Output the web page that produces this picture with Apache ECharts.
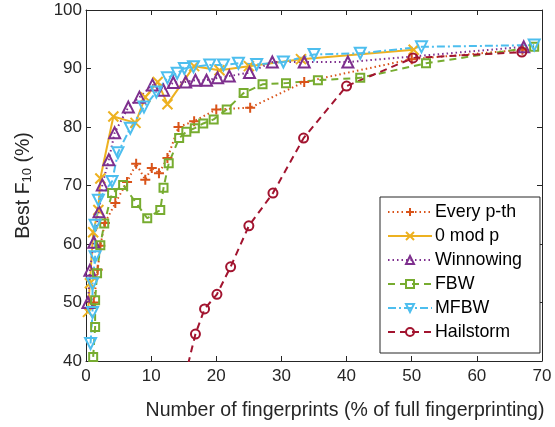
<!DOCTYPE html>
<html>
<head>
<meta charset="utf-8">
<script src="https://cdn.jsdelivr.net/npm/echarts@6/dist/echarts.min.js"></script>
<style>html,body{margin:0;padding:0;background:#fff}#c{width:555px;height:427px}</style>
</head>
<body>
<div id="c"></div>
<script>
const xTicks = [0, 10, 20, 30, 40, 50, 60, 70];
const yTicks = [40, 50, 60, 70, 80, 90, 100];
const seriesNames = ['Every p-th', '0 mod p', 'Winnowing', 'FBW', 'MFBW', 'Hailstorm'];

const everyPth = [[1.2,50],[1.8,55.6],[2.2,59.7],[2.9,63.6],[4.5,67],[6.3,70.6],[7.7,73.7],[9.1,71],[10.1,73],[11.2,72.1],[12.5,74.7],[14.2,80],[16.6,81],[20,83],[25.2,83.3],[33.5,87.7],[50,91.6],[67,93.2]];
const zeroModP = [[0.3,48.4],[0.6,53.3],[1.1,62],[1.9,65.8],[2.2,71.2],[4.2,81.8],[7.6,80.7],[9.1,85.1],[11,87.7],[12.5,83.9],[16.6,90.4],[20.5,89.7],[25,90.4],[33,91.6],[50.3,93.2]];
const winnowing = [[0.3,50],[0.6,55.5],[1.2,60.3],[2,65.5],[2.5,70.1],[3.5,74.4],[4.4,79],[6.5,83.4],[8.2,85.1],[10.2,87.2],[11.9,86.3],[13.4,87.6],[15.3,87.7],[16.8,88],[18.5,88],[20.2,88.4],[22,88.7],[25.1,89.3],[28.6,91.1],[33.5,91.1],[40.2,91.1],[67.2,93.7]];
const fbw = [[1.1,40.7],[1.4,45.8],[1.4,50.4],[1.7,55],[2.2,59.8],[2.8,63.5],[4,68.7],[5.7,70.1],[7.7,67],[9.4,64.4],[11.4,65.8],[11.9,69.6],[12.7,73.8],[14.3,78.1],[15.4,79.2],[16.7,79.8],[18,80.6],[19.6,81.3],[21.6,83],[24.2,85.8],[27.1,87.3],[30.7,87.5],[35.6,88],[42.1,88.4],[52.2,90.9],[68.8,93.7]];
const mfbw = [[0.7,43],[1.0,48.3],[1.0,53.2],[1.4,57.8],[1.4,63.2],[1.9,67.5],[4,70.7],[4.9,75.6],[6.8,79.8],[8.9,83.4],[10.8,86],[12.5,88.4],[14,89.2],[15.1,90],[16.5,90.3],[19,90.6],[21.1,90.6],[23.4,90.9],[26.2,90.7],[30.3,91.1],[35,92.4],[42.1,92.6],[51.5,93.7],[68.8,94]];
const hailstorm = [[14.8,35.5],[16.8,44.6],[18.2,48.9],[20.1,51.4],[22.2,56.1],[25,63.1],[28.7,68.7],[33.4,78.1],[40,87],[50.2,91.8],[66.9,92.8]];

const colors = ['#D95319', '#EDB120', '#7E2F8E', '#77AC30', '#4DBEEE', '#A2142F'];
const symbols = [
  'path://M5,0 L5,10 M0,5 L10,5',
  'path://M0,0 L10,10 M10,0 L0,10',
  'path://M5,0 L10,9 L0,9 Z',
  'path://M0,0 L10,0 L10,10 L0,10 Z',
  'path://M0,0 L10,0 L5,9 Z',
  'path://M10,5 A5,5 0 1,1 0,5 A5,5 0 1,1 10,5 Z'
];
const sizes = [10, 10, 11, 8, 11, 9];
const lineTypes = [[1.5, 3], 'solid', [1.5, 3], [7, 5], [8, 3, 2, 3], [7, 5]];
const datas = [everyPth, zeroModP, winnowing, fbw, mfbw, hailstorm];

const axisColor = '#262626';
const font = 'Liberation Sans, Arial, Helvetica, sans-serif';

const chart = echarts.init(document.getElementById('c'), null, {renderer: 'canvas'});
const baseX = {
  type: 'value', min: xTicks[0], max: xTicks[xTicks.length - 1], interval: 10,
  axisLine: {show: true, onZero: false, lineStyle: {color: axisColor, width: 1}},
  axisTick: {show: true, inside: true, length: 5, lineStyle: {color: axisColor}},
  splitLine: {show: false}
};
const baseY = {
  type: 'value', min: yTicks[0], max: yTicks[yTicks.length - 1], interval: 10,
  axisLine: {show: true, onZero: false, lineStyle: {color: axisColor, width: 1}},
  axisTick: {show: true, inside: true, length: 5, lineStyle: {color: axisColor}},
  splitLine: {show: false}
};
chart.setOption({
  animation: false,
  backgroundColor: '#fff',
  textStyle: {fontFamily: font},
  grid: {left: 86, right: 13, top: 10, bottom: 66, containLabel: false},
  xAxis: [
    Object.assign({}, baseX, {
      position: 'bottom',
      axisLabel: {color: axisColor, fontSize: 17, margin: 7, fontFamily: font},
      name: 'Number of fingerprints (% of full fingerprinting)',
      nameLocation: 'middle', nameGap: 40,
      nameTextStyle: {color: axisColor, fontSize: 19.5, fontFamily: font, padding: [0, 0, 0, 62]}
    }),
    Object.assign({}, baseX, {position: 'top', axisLabel: {show: false}})
  ],
  yAxis: [
    Object.assign({}, baseY, {
      position: 'left',
      axisLabel: {color: axisColor, fontSize: 17, margin: 4, fontFamily: font},
      name: '{a|Best F}{s|10}{a| (%)}',
      nameLocation: 'middle', nameGap: 52,
      nameTextStyle: {
        color: axisColor, fontFamily: font,
        rich: {
          a: {fontSize: 19.5, color: axisColor, fontFamily: font, verticalAlign: 'bottom', lineHeight: 22},
          s: {fontSize: 13, color: axisColor, fontFamily: font, verticalAlign: 'bottom', lineHeight: 16}
        }
      }
    }),
    Object.assign({}, baseY, {position: 'right', axisLabel: {show: false}})
  ],
  legend: {
    show: true,
    data: seriesNames,
    orient: 'vertical',
    left: 380, top: 197,
    padding: [6, 18, 12, 7],
    itemWidth: 44, itemHeight: 10, itemGap: 6,
    backgroundColor: '#fff',
    borderColor: axisColor, borderWidth: 1,
    textStyle: {color: '#000', fontSize: 17.8, lineHeight: 18, fontFamily: font, padding: [0, 0, 0, -2]}
  },
  series: seriesNames.map((name, i) => ({
    name: name,
    type: 'line',
    data: datas[i],
    xAxisIndex: 0, yAxisIndex: 0,
    clip: true,
    symbol: symbols[i],
    symbolSize: sizes[i],
    showAllSymbol: true,
    lineStyle: {color: colors[i], width: 2, type: lineTypes[i]},
    itemStyle: {color: 'rgba(255,255,255,0)', borderColor: colors[i], borderWidth: 2},
    emphasis: {disabled: true}
  }))
});
</script>
</body>
</html>
